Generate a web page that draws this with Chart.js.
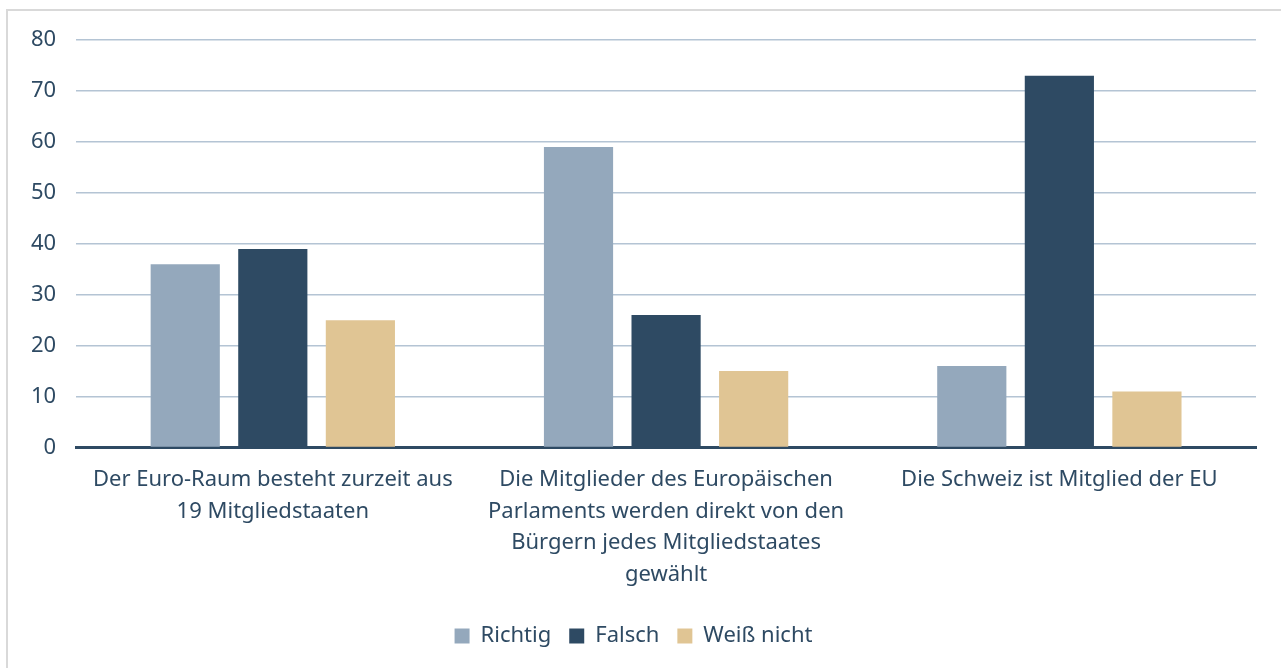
<!DOCTYPE html>
<html lang="de">
<head>
  <meta charset="UTF-8">
  <title>Umfrage EU</title>
  <script src="https://cdn.jsdelivr.net/npm/chart.js"></script>
  <style>
    html, body { margin: 0; padding: 0; background: #fff; }
    #rahmen {
      position: absolute; left: 6px; top: 9px;
      width: 1274px; height: 658px;
      border-left: 2px solid #d9d9d9; border-top: 2px solid #d9d9d9;
    }
    #inhalt {
      position: absolute; left: 0; top: -4px;
      width: 1274px; height: 662px;
    }
  </style>
</head>
<body>
<div id="rahmen">
  <div id="inhalt">
    <canvas id="balken"></canvas>
  </div>
</div>
<script>
// Kategorien (mehrzeilig wie im Original)
const kategorien = [
  ['Der Euro-Raum besteht zurzeit aus', '19 Mitgliedstaaten'],
  ['Die Mitglieder des Europäischen', 'Parlaments werden direkt von den', 'Bürgern jedes Mitgliedstaates', 'gewählt'],
  ['Die Schweiz ist Mitglied der EU']
];
const richtig = [36, 59, 16];
const falsch = [39, 26, 73];
const weissNicht = [25, 15, 11];
const yTicks = [0, 10, 20, 30, 40, 50, 60, 70, 80];

const textFarbe = '#2e4a63';
const schrift = "'Noto Sans', sans-serif";

const dados = {
  labels: kategorien,
  datasets: [
    { label: 'Richtig', data: richtig, backgroundColor: '#94a8bc' },
    { label: 'Falsch', data: falsch, backgroundColor: '#2e4a63' },
    { label: 'Weiß nicht', data: weissNicht, backgroundColor: '#e0c594' }
  ]
};

const config = {
  type: 'bar',
  data: dados,
  options: {
    responsive: true,
    maintainAspectRatio: false,
    animation: false,
    categoryPercentage: 0.668,
    barPercentage: 0.79,
    layout: { padding: { top: 0, right: 26, left: 3, bottom: 12 } },
    plugins: {
      tooltip: { enabled: false },
      legend: {
        position: 'bottom',
        labels: {
          color: textFarbe,
          font: { family: schrift, size: 22 },
          boxWidth: 15, boxHeight: 15,
          padding: 18
        }
      }
    },
    scales: {
      x: {
        grid: { display: false, drawTicks: false },
        border: { display: true, color: '#2e4a63', width: 3 },
        ticks: {
          color: textFarbe,
          font: { family: schrift, size: 22, lineHeight: 1.45 },
          padding: 16,
          maxRotation: 0,
          autoSkip: false
        }
      },
      y: {
        min: 0, max: 80,
        afterBuildTicks: axis => { axis.ticks = yTicks.map(v => ({ value: v })); },
        grid: { color: '#b4c4d4', lineWidth: 1.5, drawTicks: false },
        border: { display: false },
        ticks: {
          color: textFarbe,
          font: { family: schrift, size: 22 },
          padding: 20
        }
      }
    }
  }
};

let myChart = new Chart(document.getElementById('balken'), config);
</script>
</body>
</html>
